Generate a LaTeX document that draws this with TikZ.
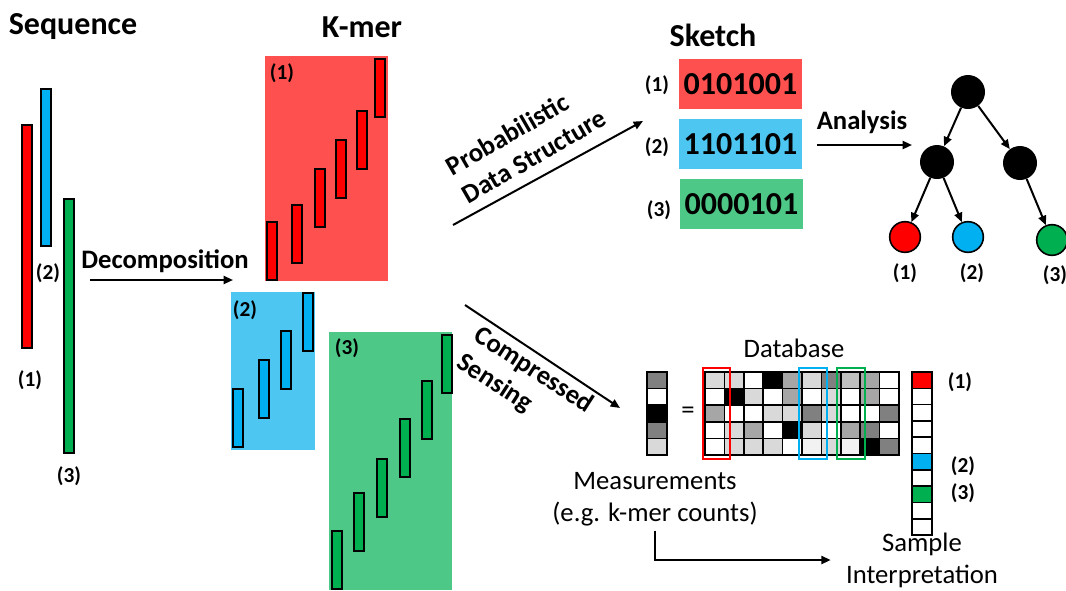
\documentclass[tikz,border=0pt]{standalone}
\usepackage{fontspec}
\setmainfont{Carlito}
\usetikzlibrary{arrows.meta, positioning, calc}

\definecolor{barred}{HTML}{FF0000}
\definecolor{barblue}{HTML}{00B0F0}
\definecolor{bargreen}{HTML}{00B050}
\definecolor{boxred}{HTML}{FF5050}
\definecolor{boxblue}{HTML}{4DC6F2}
\definecolor{boxgreen}{HTML}{4EC886}

\begin{document}
\begin{tikzpicture}[x=0.75pt, y=-0.75pt,
    bar/.style={draw=black, line width=1.5pt},
    arr/.style={line width=1.5pt, -{Triangle[length=7pt,width=6pt]}},
    ttl/.style={font=\bfseries\fontsize{24}{29}\selectfont},
    lab/.style={font=\bfseries\fontsize{20}{24}\selectfont},
    num/.style={font=\bfseries\fontsize{16}{19}\selectfont},
    txt/.style={font=\fontsize{20}{24}\selectfont},
    cell/.style={draw=black, line width=1.2pt},
    skbox/.style={minimum width=92pt, minimum height=37pt, inner sep=0pt,
        font=\bfseries\fontsize{24}{29}\selectfont},
    dot/.style={circle, fill=black, minimum size=25.5pt, inner sep=0pt},
    leaf/.style={circle, draw=black, line width=1.2pt, minimum size=23pt, inner sep=0pt}]
\useasboundingbox (0,0) rectangle (1066,590);

    % Sequences
    \node[ttl] (seq) at (73,27) {Sequence};
    \draw[bar, fill=barred] (22,125) rectangle (32,348);
    \draw[bar, fill=barblue] (41,89) rectangle (51,246);
    \draw[bar, fill=bargreen] (64,199) rectangle (74,453);
    \node[num] (sq1) at (30,380) {(1)};
    \node[num] (sq2) at (48,273) {(2)};
    \node[num] (sq3) at (69,476) {(3)};

    % Decomposition
    \coordinate (dA) at (90,280);
    \coordinate (dB) at (233,280);
    \draw[arr] (dA) -- (dB);
    \node[lab] (dec) at (165,261) {Decomposition};

    % K-mers
    \node[ttl] (kmer) at (362,27) {K-mer};
    \fill[boxred] (265,56) rectangle (388,281);
    \foreach \x/\y in {267/222, 292/205, 315/169, 336/140, 357/111, 375/59}
        \draw[bar, fill=barred] (\x,\y) rectangle ++(10,58);
    \node[num] (km1) at (282,73) {(1)};

    \fill[boxblue] (231,292) rectangle (315,450);
    \foreach \x/\y in {233/389, 259/360, 281/331, 303/293}
        \draw[bar, fill=barblue] (\x,\y) rectangle ++(10,58);
    \node[num] (km2) at (245,310) {(2)};

    \fill[boxgreen] (329,332) rectangle (452,590);
    \foreach \x/\y in {332/531, 354/493, 377/459, 400/419, 422/381, 442/335}
        \draw[bar, fill=bargreen] (\x,\y) rectangle ++(10,58);
    \node[num] (km3) at (347,348) {(3)};

    % Probabilistic data structure branch
    \coordinate (pA) at (453,225);
    \coordinate (pB) at (643,121);
    \draw[arr] (pA) -- (pB);
    \node[lab, align=left, rotate=30] (pds) at (526,142) {Probabilistic\\Data Structure};

    % Sketches
    \node[ttl] (sk) at (713,35) {Sketch};
    \node[skbox, fill=boxred] (k1) at (740.5,84) {0101001};
    \node[skbox, fill=boxblue] (k2) at (740.5,144) {1101101};
    \node[skbox, fill=boxgreen] (k3) at (741.5,204) {0000101};
    \node[num] (kl1) at (657,85) {(1)};
    \node[num] (kl2) at (657,147) {(2)};
    \node[num] (kl3) at (659,210) {(3)};

    % Analysis and tree
    \coordinate (aA) at (817,145);
    \coordinate (aB) at (912,145);
    \draw[arr] (aA) -- (aB);
    \node[lab] (ana) at (862,122) {Analysis};

    \node[dot] (root) at (968,92) {};
    \node[dot] (m1) at (937,162) {};
    \node[dot] (m2) at (1020,163) {};
    \node[leaf, fill=barred] (t1) at (905,237) {};
    \node[leaf, fill=barblue] (t2) at (968,237) {};
    \node[leaf, fill=bargreen] (t3) at (1052,240) {};
    \draw[arr] (root) -- (m1);
    \draw[arr] (root) -- (m2);
    \draw[arr] (m1) -- (t1);
    \draw[arr] (m1) -- (t2);
    \draw[arr] (m2) -- (t3);
    \node[num] (tl1) at (905,273) {(1)};
    \node[num] (tl2) at (972,273) {(2)};
    \node[num] (tl3) at (1055,275) {(3)};

    % Compressed sensing branch
    \coordinate (cA) at (465,305);
    \coordinate (cB) at (620,408);
    \draw[arr] (cA) -- (cB);
    \node[lab, align=left, rotate=-33] (cs) at (525,384) {Compressed\\Sensing};

    % Measurements = Database x sample
    \foreach \s [count=\r] in {50,0,100,50,15}
        \draw[cell, fill=black!\s] (647,{372+(\r-1)*16.6}) rectangle ++(20,16.6);
    \node[txt] (eq) at (688,413) {=};

    \foreach \shades [count=\r] in {{15,15,0,100,35,15,50,25,35,0},
                                    {0,100,15,0,35,0,15,0,35,0},
                                    {35,0,0,15,15,50,15,0,0,50},
                                    {0,15,35,0,100,15,0,35,50,0},
                                    {0,15,15,15,0,5,15,5,100,50}}
        \foreach \s [count=\c] in \shades
            \draw[cell, fill=black!\s] ({705+(\c-1)*19.4},{372+(\r-1)*16.6}) rectangle ++(19.4,16.6);
    \draw[line width=1.5pt, barred] (703,368) rectangle (730,459);
    \draw[line width=1.5pt, barblue] (799,368) rectangle (827,459);
    \draw[line width=1.5pt, bargreen] (837,368) rectangle (865,459);
    \node[txt] (db) at (794,348) {Database};

    \foreach \col [count=\r] in {barred,white,white,white,white,barblue,white,bargreen,white,white}
        \draw[cell, fill=\col] (912,{372+(\r-1)*16.3}) rectangle ++(20,16.3);
    \node[num] (cl1) at (960,382) {(1)};
    \node[num] (cl2) at (963,466) {(2)};
    \node[num] (cl3) at (963,493) {(3)};

    % Interpretation
    \node[txt, align=center] (meas) at (655,499) {Measurements\\(e.g. k-mer counts)};
    \node[txt, align=center] (interp) at (922,560) {Sample\\Interpretation};
    \draw[arr, shorten >=8pt] (meas.south) |- (interp.west);
\end{tikzpicture}
\end{document}
